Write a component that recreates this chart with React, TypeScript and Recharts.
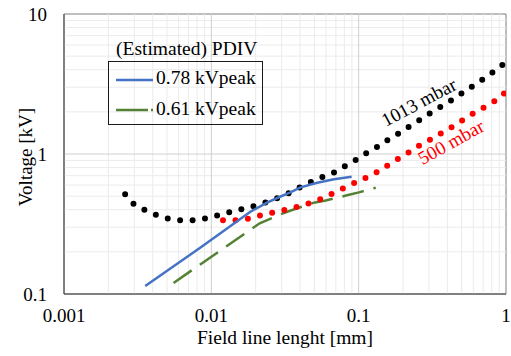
import React from 'react';
import { LineChart, Line, XAxis, YAxis, ReferenceLine, ReferenceArea, ReferenceDot, Legend, Label } from 'recharts';

// 1013 mbar curve (black, round dots)
const black1013X = [0.0026, 0.00296, 0.0035, 0.0042, 0.0051, 0.0062, 0.0075, 0.0091, 0.0112, 0.0135, 0.0163, 0.0198, 0.0239, 0.029, 0.0346, 0.041, 0.0489, 0.059, 0.0708, 0.0838, 0.099, 0.117, 0.139, 0.164, 0.195, 0.23, 0.272, 0.322, 0.38, 0.45, 0.532, 0.628, 0.739, 0.865, 1.0];
const black1013Y = [0.515, 0.442, 0.4, 0.368, 0.345, 0.336, 0.336, 0.347, 0.366, 0.385, 0.405, 0.427, 0.454, 0.491, 0.532, 0.588, 0.642, 0.697, 0.75, 0.839, 0.925, 1.04, 1.15, 1.3, 1.44, 1.62, 1.8, 2.03, 2.25, 2.51, 2.83, 3.18, 3.56, 4.03, 4.54];

// 500 mbar curve (red, round dots)
const red500X = [0.012, 0.0146, 0.0178, 0.0215, 0.0261, 0.0317, 0.0386, 0.0466, 0.056, 0.0673, 0.0803, 0.0964, 0.1146, 0.137, 0.163, 0.191, 0.227, 0.268, 0.317, 0.377, 0.448, 0.532, 0.628, 0.743, 0.883, 1.0];
const red500Y = [0.336, 0.336, 0.345, 0.365, 0.381, 0.4, 0.42, 0.447, 0.48, 0.526, 0.574, 0.631, 0.685, 0.756, 0.85, 0.94, 1.05, 1.18, 1.29, 1.44, 1.6, 1.8, 2.01, 2.21, 2.47, 2.79];

// 0.78 kVpeak (blue solid)
const blueX = [0.00356, 0.0084, 0.0184, 0.0239, 0.0287, 0.0344, 0.0403, 0.0524, 0.068, 0.0896];
const blueY = [0.114, 0.214, 0.387, 0.449, 0.491, 0.532, 0.578, 0.624, 0.66, 0.689];

// 0.61 kVpeak (green dashed)
const greenX = [0.00554, 0.0213, 0.0303, 0.0346, 0.0497, 0.0597, 0.0846, 0.1005, 0.1306];
const greenY = [0.12, 0.32, 0.375, 0.395, 0.449, 0.465, 0.509, 0.532, 0.574];

const xTicks = [0.001, 0.01, 0.1, 1];
const yTicks = [0.1, 1, 10];
const xMajorGrid = [0.01, 0.1];
const yMajorGrid = [1];
const xMinorGrid = [0.002, 0.003, 0.004, 0.005, 0.006, 0.007, 0.008, 0.009, 0.02, 0.03, 0.04, 0.05, 0.06, 0.07, 0.08, 0.09, 0.2, 0.3, 0.4, 0.5, 0.6, 0.7, 0.8, 0.9];
const yMinorGrid = [0.2, 0.3, 0.4, 0.5, 0.6, 0.7, 0.8, 0.9, 2, 3, 4, 5, 6, 7, 8, 9];

const legendTitle = '(Estimated) PDIV';
const legendNames = ['0.78 kVpeak', '0.61 kVpeak'];
const annotations = [
  { text: '1013 mbar', x: 0.256, y: 2.35, angle: -28, color: '#000000' },
  { text: '500 mbar', x: 0.423, y: 1.22, angle: -29, color: '#FF0000' },
];

const xTitle = 'Field line lenght [mm]';
const yTitle = 'Voltage [kV]';

const FONT = 'Liberation Serif';

const pts = (xs: number[], ys: number[]) => xs.map((x, i) => ({ x, y: ys[i] }));

const blackData = pts(black1013X, black1013Y);
const redData = pts(red500X, red500Y);
const blueData = pts(blueX, blueY);
const greenData = pts(greenX, greenY);

const fmt = (v: number) => String(v);

const RotText = (props: any) => {
  const { viewBox, text, angle, color } = props;
  const cx = viewBox.x + (viewBox.width || 0) / 2;
  const cy = viewBox.y + (viewBox.height || 0) / 2;
  return (
    <text x={cx} y={cy} dy="0.35em" textAnchor="middle" fill={color} fontFamily={FONT} fontSize={19}
      transform={`rotate(${angle}, ${cx}, ${cy})`}>{text}</text>
  );
};

const YTitle = (props: any) => {
  const { viewBox } = props;
  const cx = viewBox.x + 25;
  const cy = viewBox.y + viewBox.height / 2 + 3;
  return (
    <text x={cx} y={cy} dy="0.35em" textAnchor="middle" fill="#000" fontFamily={FONT} fontSize={19}
      transform={`rotate(-90, ${cx}, ${cy})`}>{yTitle}</text>
  );
};

const LegendBox = () => (
  <div style={{ position: 'relative', width: 511, height: 356, fontFamily: FONT, color: '#000', pointerEvents: 'none' }}>
    <div style={{ position: 'absolute', left: 116, top: 39, fontSize: 19.5, lineHeight: '20px', whiteSpace: 'nowrap' }}>{legendTitle}</div>
    <div style={{ position: 'absolute', left: 108, top: 61, width: 155, height: 64, border: '1px solid #1a1a1a', boxSizing: 'border-box' }} />
    <svg style={{ position: 'absolute', left: 0, top: 0 }} width={511} height={356}>
      <line x1={116} x2={153} y1={80} y2={80} stroke="#4472C4" strokeWidth={2.5} />
      <line x1={116} x2={153} y1={110} y2={110} stroke="#548235" strokeWidth={2.5} strokeDasharray="32 3 2 10" />
    </svg>
    <div style={{ position: 'absolute', left: 156, top: 68, fontSize: 19.5, lineHeight: '20px', whiteSpace: 'nowrap' }}>{legendNames[0]}</div>
    <div style={{ position: 'absolute', left: 156, top: 99, fontSize: 19.5, lineHeight: '20px', whiteSpace: 'nowrap' }}>{legendNames[1]}</div>
  </div>
);

export default function App() {
  return (
    <div style={{ position: 'absolute', left: 0, top: 0, width: 511, height: 356, background: '#ffffff' }}>
      <LineChart width={511} height={356} margin={{ top: 14, right: 5, bottom: 0, left: 0 }}>
        <XAxis dataKey="x" type="number" scale="log" domain={[0.001, 1]} allowDataOverflow ticks={xTicks}
          interval={0} tickFormatter={fmt} tickLine={false} tickSize={0} tickMargin={15} height={62}
          axisLine={{ stroke: '#404040', strokeWidth: 1 }}
          tick={{ fill: '#000', fontSize: 19, fontFamily: FONT }}>
          <Label value={xTitle} position="insideBottom" offset={12} fill="#000" fontSize={19.5} fontFamily={FONT} />
        </XAxis>
        <YAxis dataKey="y" type="number" scale="log" domain={[0.1, 10]} allowDataOverflow ticks={yTicks}
          interval={0} tickFormatter={fmt} tickLine={false} tickSize={0} tickMargin={17} width={64}
          axisLine={{ stroke: '#404040', strokeWidth: 1 }}
          tick={{ fill: '#000', fontSize: 19, fontFamily: FONT }}>
          <Label content={<YTitle />} />
        </YAxis>
        {xMinorGrid.map((v) => <ReferenceLine key={'xm' + v} x={v} stroke="#ebebeb" strokeWidth={1} />)}
        {yMinorGrid.map((v) => <ReferenceLine key={'ym' + v} y={v} stroke="#ebebeb" strokeWidth={1} />)}
        {xMajorGrid.map((v) => <ReferenceLine key={'xM' + v} x={v} stroke="#cfcfcf" strokeWidth={1} />)}
        {yMajorGrid.map((v) => <ReferenceLine key={'yM' + v} y={v} stroke="#cfcfcf" strokeWidth={1} />)}
        <ReferenceArea x1={0.001} x2={1} y1={0.1} y2={10} fill="none" stroke="#7f7f7f" strokeWidth={1} ifOverflow="visible" />
        <Line data={greenData} dataKey="y" type="linear" name={legendNames[1]} stroke="#548235" strokeWidth={2.5}
          strokeDasharray="22 10" dot={false} activeDot={false} isAnimationActive={false} legendType="line" />
        <Line data={redData} dataKey="y" type="linear" name="500 mbar" stroke="#FF0000" strokeWidth={6}
          strokeDasharray="0 12.5" strokeLinecap="round" dot={false} activeDot={false} isAnimationActive={false} legendType="none" />
        <Line data={blackData} dataKey="y" type="linear" name="1013 mbar" stroke="#000000" strokeWidth={6}
          strokeDasharray="0 12.5" strokeLinecap="round" dot={false} activeDot={false} isAnimationActive={false} legendType="none" />
        <Line data={blueData} dataKey="y" type="linear" name={legendNames[0]} stroke="#4472C4" strokeWidth={2.5}
          dot={false} activeDot={false} isAnimationActive={false} legendType="line" />
        {annotations.map((a) => (
          <ReferenceDot key={a.text} x={a.x} y={a.y} r={0} fill="none" stroke="none"
            label={(p: any) => <RotText viewBox={p.viewBox} text={a.text} angle={a.angle} color={a.color} />} />
        ))}
        <Legend layout="horizontal" verticalAlign="middle" align="center" content={() => <LegendBox />}
          wrapperStyle={{ position: 'absolute', left: 0, top: 0, width: 511, height: 356, pointerEvents: 'none' }} />
      </LineChart>
    </div>
  );
}
